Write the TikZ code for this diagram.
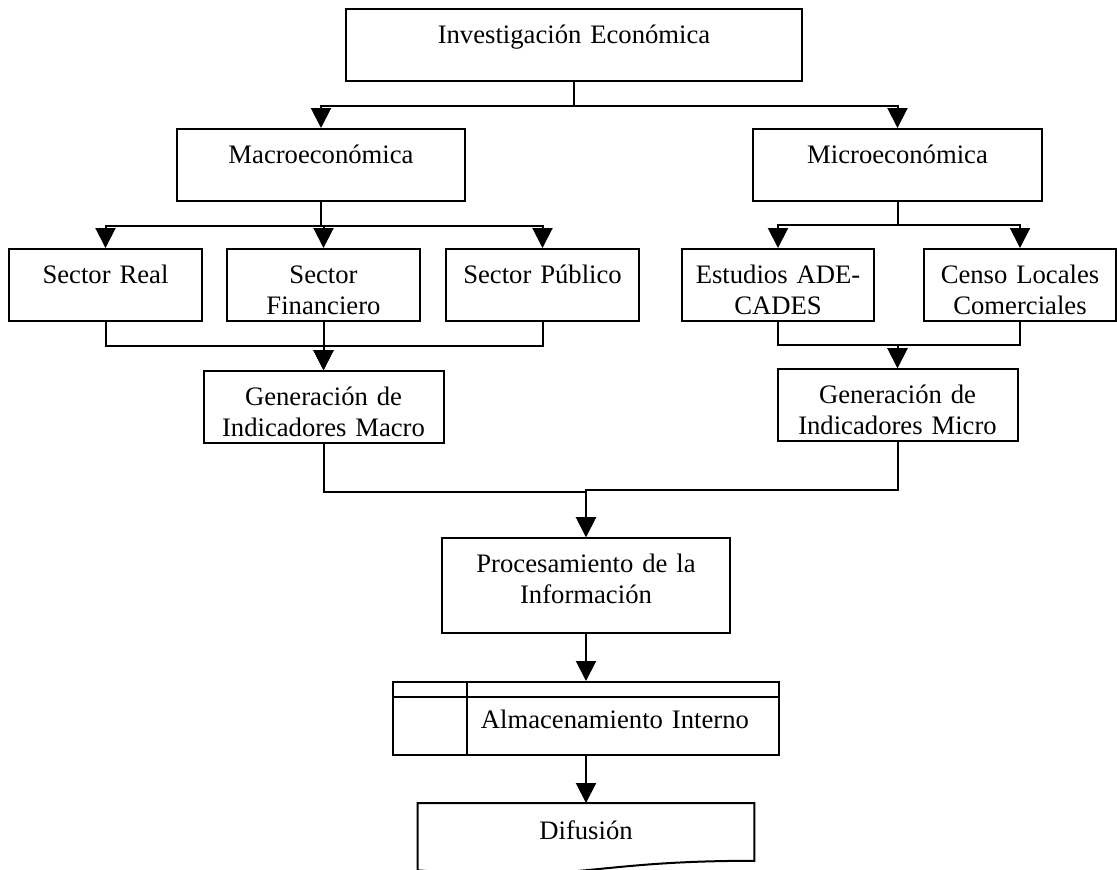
\documentclass[tikz,border=0pt]{standalone}
\usepackage{fontspec}
\setmainfont{Liberation Serif}
\usetikzlibrary{arrows.meta, positioning}
\tikzstyle{block} = [rectangle, draw = black, line width=0.9pt, align=center, inner sep=0pt, text height=15.5pt, text depth=16.9pt, font=\fontsize{12}{13.8}\selectfont]
\tikzstyle{doc} = [rectangle, align=center, inner sep=0pt, text height=16pt, text depth=16.4pt, font=\fontsize{12}{13.8}\selectfont]
\tikzstyle{arrow} = [line width=0.9pt, -{Triangle[width=9pt, length=9pt]}]
\tikzstyle{link} = [line width=0.9pt]

\begin{document}
\begin{tikzpicture}[x=0.45pt, y=-0.45pt]
	\useasboundingbox (0,0) rectangle (1117,869);

	% Top level - - - - - - - - - - - - - - - - - - - - - - - - - - - - - - - -
	\node(inv) [block, text width=205.2pt, anchor=north] at (574,8)
		{Investigación Económica};
	\node(macro) [block, text width=129.6pt, anchor=north] at (321,128)
		{Macroeconómica};
	\node(micro) [block, text width=130pt, anchor=north] at (897.5,128)
		{Microeconómica};

	% Macro branch . . . . . . . . . . . . . . . . . . . . . . . . . . . . . .
	\node(sreal) [block, text width=86.85pt, anchor=north] at (105.5,248)
		{Sector Real};
	\node(sfin) [block, text width=86.85pt, right= 10.35pt of sreal]
		{Sector\\Financiero};
	\node(spub) [block, text width=86.85pt, right= 10.8pt of sfin]
		{Sector Público};
	\node(gmacro) [block, text width=108pt, below= 21.6pt of sfin]
		{Generación de\\Indicadores Macro};

	% Micro branch . . . . . . . . . . . . . . . . . . . . . . . . . . . . . .
	\node(sade) [block, text width=86.4pt, anchor=north] at (778,248)
		{Estudios ADE-\\CADES};
	\node(scenso) [block, text width=86.4pt, right= 21.6pt of sade]
		{Censo Locales\\Comerciales};
	\node(gmicro) [block, text width=108pt, anchor=north] at (897.5,368)
		{Generación de\\Indicadores Micro};

	% Output - - - - - - - - - - - - - - - - - - - - - - - - - - - - - - - - -
	\node(proc) [block, text width=129.6pt, text depth=27.25pt, anchor=north] at (586,537)
		{Procesamiento de la\\Información};
	\node(store) [block, text width=173.7pt, text height=20.7pt, text depth=12.15pt, below= 21.15pt of proc]
		{\hspace*{26pt}Almacenamiento Interno};
	\node(dif) [doc, text width=151.2pt, below= 21.15pt of store]
		{Difusión};

	% storage compartments
	\draw[link]([yshift=-7.2pt]store.north west)--([yshift=-7.2pt]store.north east);
	\draw[link]([xshift=33.75pt]store.north west)--([xshift=33.75pt]store.south west);

	% document outline with wavy bottom
	\draw[link](dif.north west)--(dif.north east)--([yshift=-26pt]dif.north east)
		.. controls ([yshift=-26pt]dif.north) and ([yshift=-35.9pt]dif.north) .. ([yshift=-30.3pt]dif.north west)--cycle;

	% Arrows - - - - - - - - - - - - - - - - - - - - - - - - - - - - - - - - -
	\draw[arrow](inv.south)--++(0,24)-|(macro.north);
	\draw[arrow](inv.south)--++(0,24)-|(micro.north);

	\draw[arrow](macro.south)--++(0,24)-|(sreal.north);
	\draw[arrow](macro.south)--++(0,24)-|(sfin.north);
	\draw[arrow](macro.south)--++(0,24)-|(spub.north);
	\draw[arrow](micro.south)--++(0,23)-|(sade.north);
	\draw[arrow](micro.south)--++(0,23)-|(scenso.north);

	\draw[arrow](sreal.south)--++(0,24)-|(gmacro.north);
	\draw[arrow](spub.south)--++(0,24)-|(gmacro.north);
	\draw[arrow](sfin)--(gmacro);
	\draw[arrow](sade.south)--++(0,23)-|(gmicro.north);
	\draw[arrow](scenso.south)--++(0,23)-|(gmicro.north);

	\draw[arrow](gmacro.south)--++(0,48)-|(proc.north);
	\draw[arrow](gmicro.south)--++(0,48)-|(proc.north);
	\draw[arrow](proc)--(store);
	\draw[arrow](store)--(dif);

\end{tikzpicture}
\end{document}
